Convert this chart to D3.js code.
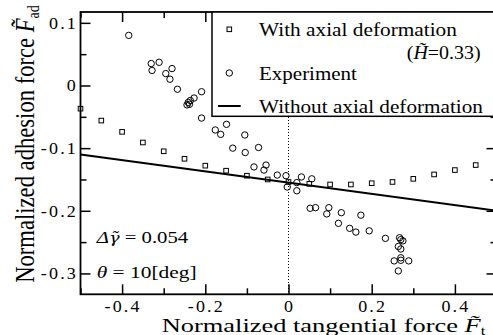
<!DOCTYPE html>
<html><head><meta charset="utf-8">
<script src="https://cdn.jsdelivr.net/npm/d3@7"></script>
<style>body{margin:0;background:#fff}svg{display:block}</style>
</head><body>
<svg id="c" width="493" height="335"></svg>
<script>
// ---- data ----
const expX = [-0.384,-0.330,-0.311,-0.328,-0.280,-0.295,-0.285,-0.267,-0.209,-0.227,-0.236,-0.241,-0.244,-0.238,-0.209,-0.176,-0.163,-0.149,-0.105,-0.134,-0.104,-0.072,-0.083,-0.054,-0.059,-0.027,-0.006,-0.003,0.020,0.020,0.031,0.056,0.052,0.065,0.097,0.092,0.127,0.174,0.120,0.147,0.162,0.194,0.233,0.267,0.275,0.270,0.264,0.270,0.254,0.270,0.289,0.270,0.264];
const expY = [0.080,0.035,0.037,0.024,0.027,0.019,0.010,-0.006,-0.010,-0.020,-0.024,-0.027,-0.031,-0.030,-0.052,-0.071,-0.078,-0.062,-0.079,-0.100,-0.107,-0.099,-0.130,-0.127,-0.135,-0.143,-0.144,-0.162,-0.155,-0.168,-0.146,-0.149,-0.196,-0.195,-0.195,-0.205,-0.203,-0.207,-0.220,-0.228,-0.234,-0.232,-0.244,-0.243,-0.248,-0.246,-0.257,-0.261,-0.280,-0.279,-0.280,-0.275,-0.296];
const axialX = [-0.50,-0.45,-0.40,-0.35,-0.30,-0.25,-0.20,-0.15,-0.10,-0.05,0.00,0.05,0.10,0.15,0.20,0.25,0.30,0.35,0.40,0.45];
const axialY = [-0.037,-0.056,-0.074,-0.091,-0.105,-0.117,-0.128,-0.136,-0.144,-0.150,-0.154,-0.157,-0.158,-0.158,-0.156,-0.154,-0.149,-0.142,-0.135,-0.127];
const noAxialX = [-0.5, 0.5];
const noAxialY = [-0.110, -0.200];
const xMajor = [-0.4,-0.2,0,0.2,0.4];
const xMajorLabels = ["-0.4","-0.2","0","0.2","0.4"];
const xMinor = [-0.5,-0.3,-0.1,0.1,0.3,0.5];
const yMajor = [0.1,0,-0.1,-0.2,-0.3];
const yMajorLabels = ["0.1","0","-0.1","-0.2","-0.3"];
const yMinor = [0.05,-0.05,-0.15,-0.25];

// ---- layout ----
const L = 80.5, R = 496.5, T = 12, B = 294.3;
const FONT = '"Liberation Serif","Times New Roman",serif';
const svg = d3.select('#c');
const x = d3.scaleLinear().domain([-0.5, 0.5]).range([L, R]);
const y = d3.scaleLinear().domain([-0.3333, 0.1173]).range([B, T]);

// text in a group translated to (px,py) and stretched horizontally by sx
function stext(parent, px, py, anchor, size, sx, rot) {
  const g = parent.append('g');
  const t = g.append('text').attr('text-anchor', anchor).attr('font-size', size)
    .attr('font-family', FONT).attr('fill', '#000');
  t.place = (s) => g.attr('transform', `translate(${px},${py}) scale(${s},1)` + (rot ? ' rotate(-90)' : ''));
  t.place(sx);
  t.g = g;
  return t;
}
// stretch horizontally so the text's width equals target
function fitW(t, target) {
  const w = t.node().getBBox().width;
  t.place(target / w);
}

// dotted zero line
svg.append('line').attr('x1', x(0)).attr('x2', x(0)).attr('y1', T).attr('y2', B)
  .attr('stroke', '#000').attr('stroke-width', 1).attr('stroke-dasharray', '1,2');

// axes ticks (inward, mirrored)
function ticks(gen, tx, ty, vals, size) {
  const g = svg.append('g').attr('transform', `translate(${tx},${ty})`)
    .call(gen.tickValues(vals).tickSize(size).tickFormat(''));
  g.select('.domain').remove();
  g.selectAll('line').attr('stroke', '#000').attr('stroke-width', 1.5);
}
ticks(d3.axisBottom(x), 0, B, xMajor, -10);
ticks(d3.axisBottom(x), 0, B, xMinor, -6);
ticks(d3.axisTop(x), 0, T, xMajor, -10);
ticks(d3.axisTop(x), 0, T, xMinor, -6);
ticks(d3.axisLeft(y), L, 0, yMajor, -10);
ticks(d3.axisLeft(y), L, 0, yMinor, -6);
ticks(d3.axisRight(y), R, 0, yMajor, -10);
ticks(d3.axisRight(y), R, 0, yMinor, -6);

// frame
svg.append('rect').attr('x', L).attr('y', T).attr('width', R - L).attr('height', B - T)
  .attr('fill', 'none').attr('stroke', '#000').attr('stroke-width', 1.8);

// tick labels
xMajor.forEach((v, i) => stext(svg, x(v) + 1, 311.8, 'middle', 17.3, 1.04)
  .attr('letter-spacing', 2.1).text(xMajorLabels[i]));
yMajor.forEach((v, i) => stext(svg, 78, y(v) + 6, 'end', 17.5, 1.03)
  .attr('letter-spacing', 2.1).text(yMajorLabels[i]));

// line without axial deformation
svg.append('path').datum(noAxialX.map((v, i) => [v, noAxialY[i]]))
  .attr('d', d3.line().x(d => x(d[0])).y(d => y(d[1])))
  .attr('fill', 'none').attr('stroke', '#000').attr('stroke-width', 2);

// squares
const sq = 4.6;
svg.append('g').selectAll('rect').data(axialX.map((v, i) => [v, axialY[i]])).join('rect')
  .attr('x', d => x(d[0]) - sq / 2).attr('y', d => y(d[1]) - sq / 2)
  .attr('width', sq).attr('height', sq)
  .attr('fill', 'none').attr('stroke', '#000').attr('stroke-width', 1);

// circles
svg.append('g').selectAll('circle').data(expX.map((v, i) => [v, expY[i]])).join('circle')
  .attr('cx', d => x(d[0])).attr('cy', d => y(d[1])).attr('r', 3.2)
  .attr('fill', 'none').attr('stroke', '#000').attr('stroke-width', 1);

// legend
const lg = svg.append('g');
lg.append('rect').attr('x', 212).attr('y', T).attr('width', R - 212).attr('height', 116.3 - T)
  .attr('fill', '#fff').attr('stroke', '#000').attr('stroke-width', 1.5);
lg.append('rect').attr('x', 229.3 - sq / 2).attr('y', 29.3 - sq / 2).attr('width', sq).attr('height', sq)
  .attr('fill', 'none').attr('stroke', '#000').attr('stroke-width', 1);
lg.append('circle').attr('cx', 229.3).attr('cy', 73).attr('r', 3.2)
  .attr('fill', 'none').attr('stroke', '#000').attr('stroke-width', 1);
lg.append('line').attr('x1', 218).attr('x2', 240.7).attr('y1', 106).attr('y2', 106)
  .attr('stroke', '#000').attr('stroke-width', 2);
fitW(stext(lg, 259, 36, 'start', 18, 1).text('With axial deformation'), 198);
{
  const t = stext(lg, 480.7, 58.5, 'end', 18, 1);
  t.append('tspan').text('(');
  t.append('tspan').attr('font-style', 'italic').text('H\u0303');
  t.append('tspan').text('=0.33)');
  fitW(t, 74);
}
fitW(stext(lg, 259, 79.5, 'start', 18, 1).text('Experiment'), 98);
fitW(stext(lg, 259, 112.7, 'start', 18, 1).text('Without axial deformation'), 224);

// annotations
{
  const t = stext(svg, 96.7, 243, 'start', 17.5, 1);
  t.append('tspan').attr('font-style', 'italic').text('\u0394');
  t.append('tspan').attr('font-style', 'italic').attr('font-family', '"DejaVu Serif",serif')
    .attr('font-size', 15).text('\u03b3\u0303');
  t.append('tspan').text(' = 0.054');
  fitW(t, 93);
  const t2 = stext(svg, 96.7, 278.3, 'start', 17.5, 1);
  t2.append('tspan').attr('font-style', 'italic').text('\u03b8');
  t2.append('tspan').text(' = 10[deg]');
  fitW(t2, 100);
}

// axis titles
{
  const t = stext(svg, 161.7, 332, 'start', 18.5, 1);
  t.append('tspan').text('Normalized tangential force ');
  t.append('tspan').attr('font-style', 'italic').text('F\u0303');
  t.append('tspan').attr('font-size', '0.62em').attr('dy', '0.25em').text('t');
  fitW(t, 325);
  const t2 = stext(svg, 34, 144, 'middle', 22.5, 1.2, true);
  t2.append('tspan').text('Normalized adhesion force ');
  t2.append('tspan').attr('font-style', 'italic').text('F\u0303');
  t2.append('tspan').attr('font-size', '0.62em').attr('dy', '0.3em').text('ad');
  const w = t2.node().getBBox().width;
  t2.attr('font-size', 22.5 * 278 / w);
}
</script>
</body></html>
